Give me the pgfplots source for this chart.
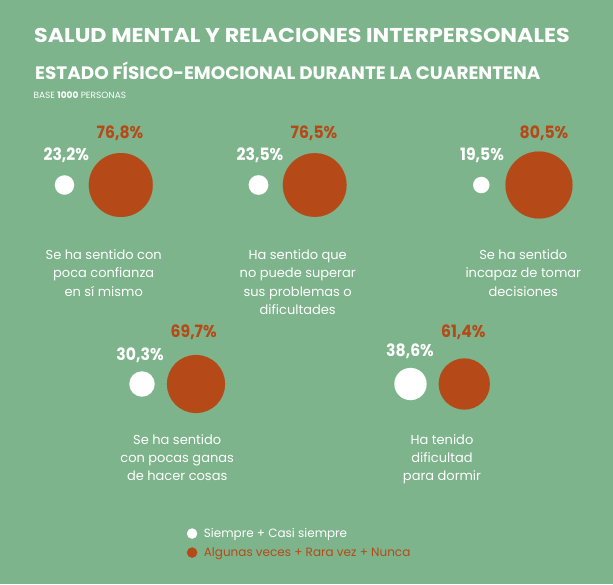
\documentclass[border=0pt]{standalone}
\usepackage{pgfplots}
\pgfplotsset{compat=1.18}
\usepackage{pgfplotstable}
\usepackage{fontspec}
\setmainfont{Poppins}
\definecolor{bg}{HTML}{7DB48B}
\definecolor{rust}{HTML}{B54A18}
\tikzset{
  desc/.style={anchor=base, inner sep=0, text=white, font=\fontsize{13}{15}\selectfont},
  pct/.style={anchor=base, inner sep=0, font=\fontsize{17}{20}\selectfont\bfseries},
}
\newcommand{\pc}[1]{\scalebox{0.92}[1]{#1}}

% bubble centres in pixel coordinates (y downwards), v = percentage
\pgfplotstableread{
x     y    v
64.5  185  23.2
258.5 185  23.5
481.3 185  19.5
142   384  30.3
410.5 384  38.6
}\siempre
\pgfplotstableread{
x     y    v
120.8 185  76.8
314.7 185  76.5
539   185  80.5
196   384  69.7
464.3 384  61.4
}\algunas

\begin{document}
\begin{tikzpicture}
\begin{axis}[
    width=613pt, height=584pt, scale only axis,
    xmin=0, xmax=613, ymin=0, ymax=584, y dir=reverse,
    axis line style={draw=none}, ticks=none,
    axis background/.style={fill=bg},
    clip=false,
    legend style={at={(axis cs:186.7,543)}, anchor=west, draw=none, fill=none,
        inner sep=0pt, font=\fontsize{12}{14}\selectfont, row sep=4.5pt},
    legend cell align=left,
]
\addplot[forget plot, only marks, mark=*, scatter, line width=0.1pt,
    scatter/use mapped color={draw=white, fill=white},
    visualization depends on={0.416*\thisrow{v} \as \rad},
    scatter/@pre marker code/.append style={/tikz/mark size=\rad}]
    table[x=x, y=y, meta=v] {\siempre};
\addplot[forget plot, only marks, mark=*, scatter, line width=0.1pt,
    scatter/use mapped color={draw=rust, fill=rust},
    visualization depends on={0.416*\thisrow{v} \as \rad},
    scatter/@pre marker code/.append style={/tikz/mark size=\rad}]
    table[x=x, y=y, meta=v] {\algunas};

\addlegendimage{legend image code/.code={\fill[white] (5pt,0pt) circle (5pt); \path[draw=none] (0pt,0pt) -- (14.8pt,0pt);}}
\addlegendentry{\textcolor{white}{Siempre + Casi siempre}}
\addlegendimage{legend image code/.code={\fill[rust] (5pt,0pt) circle (5pt); \path[draw=none] (0pt,0pt) -- (14.8pt,0pt);}}
\addlegendentry{\textcolor{rust}{Algunas veces + Rara vez + Nunca}}

% titles
\node[anchor=base west, inner sep=0, text=white, font=\fontsize{20}{24}\selectfont\bfseries]
    at (axis cs:34,42.3) {\scalebox{1.11}[1]{SALUD MENTAL Y RELACIONES INTERPERSONALES}};
\node[anchor=base west, inner sep=0, text=white, font=\fontsize{18}{22}\selectfont\bfseries]
    at (axis cs:35,79.3) {\scalebox{1.022}[1]{ESTADO FÍSICO-EMOCIONAL DURANTE LA CUARENTENA}};
\node[anchor=base west, inner sep=0, text=white, font=\fontsize{9}{11}\selectfont]
    at (axis cs:33.3,98.3) {BASE \textbf{1000} PERSONAS};

% percentages
\node[pct, text=white] at (axis cs:66.3,160)    {\pc{23,2\%}};
\node[pct, text=rust]  at (axis cs:120,138.3)   {\pc{76,8\%}};
\node[pct, text=white] at (axis cs:260,160)     {\pc{23,5\%}};
\node[pct, text=rust]  at (axis cs:314,138.3)   {\pc{76,5\%}};
\node[pct, text=white] at (axis cs:482,160)     {\pc{19,5\%}};
\node[pct, text=rust]  at (axis cs:544,138.3)   {\pc{80,5\%}};
\node[pct, text=white] at (axis cs:140,360)     {\pc{30,3\%}};
\node[pct, text=rust]  at (axis cs:193.7,337.3) {\pc{69,7\%}};
\node[pct, text=white] at (axis cs:410,356.7)   {\pc{38,6\%}};
\node[pct, text=rust]  at (axis cs:463.3,337.3) {\pc{61,4\%}};

% descriptions
\node[desc] at (axis cs:103.7,259)   {Se ha sentido con};
\node[desc] at (axis cs:103.7,277.5) {poca confianza};
\node[desc] at (axis cs:103.7,296)   {en sí mismo};
\node[desc] at (axis cs:297.7,259)   {Ha sentido que};
\node[desc] at (axis cs:297.7,277.5) {no puede superar};
\node[desc] at (axis cs:297.7,296)   {sus problemas o};
\node[desc] at (axis cs:297.7,314.5) {dificultades};
\node[desc] at (axis cs:523.3,259)   {Se ha sentido};
\node[desc] at (axis cs:523.3,277.5) {incapaz de tomar};
\node[desc] at (axis cs:523.3,296)   {decisiones};
\node[desc] at (axis cs:177.2,444)   {Se ha sentido};
\node[desc] at (axis cs:177.2,462.3) {con pocas ganas};
\node[desc] at (axis cs:177.2,480.6) {de hacer cosas};
\node[desc] at (axis cs:442,444)     {Ha tenido};
\node[desc] at (axis cs:442,462.3)   {dificultad};
\node[desc] at (axis cs:442,480.6)   {para dormir};
\end{axis}
\end{tikzpicture}
\end{document}
